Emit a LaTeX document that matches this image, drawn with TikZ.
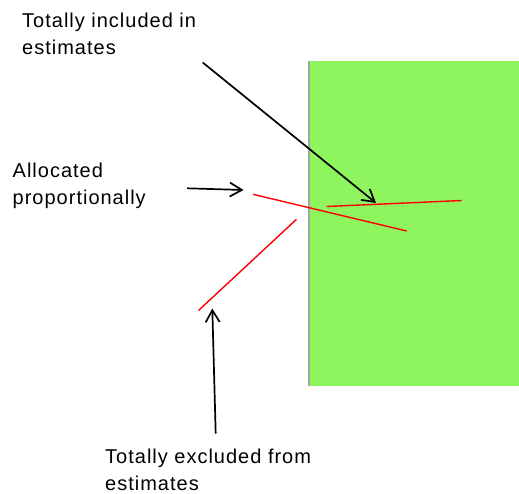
\documentclass[tikz,border=0pt]{standalone}
\usepackage{fontspec}
\setmainfont{Liberation Sans}[LetterSpace=5]
\usetikzlibrary{arrows.meta}
\definecolor{boxgreen}{RGB}{143,245,94}
\definecolor{edgegrey}{RGB}{165,165,165}
\tikzset{
  lbl/.style={anchor=base west, inner sep=0pt, align=left, font=\fontsize{20}{27}\selectfont},
  pointer/.style={draw=black, line width=1.7pt, -{Straight Barb[length=12pt,width=14pt,line width=1.7pt]}},
  redline/.style={draw=red, line width=1.4pt},
}
\begin{document}
\begin{tikzpicture}[x=1pt,y=-1pt]
\useasboundingbox (0,0) rectangle (519,494);
% green area
\fill[boxgreen] (308,61) rectangle (519,386);
\draw[edgegrey, line width=1.6pt] (308.8,61) -- (308.8,386);
% labels (anchor = baseline of last line)
\node[lbl] (incl) at (22,55) {Totally included in\\estimates};
\node[lbl] (alloc) at (12.5,204.5) {Allocated\\proportionally};
\node[lbl] (excl) at (105,490.5) {Totally excluded from\\estimates};
% red lines
\coordinate (a1) at (253,194.3);
\coordinate (a2) at (406.7,231);
\coordinate (b1) at (326.7,206.5);
\coordinate (b2) at (461.7,200.5);
\coordinate (c1) at (296.5,219.3);
\coordinate (c2) at (198.5,310.5);
\draw[redline] (a1) -- (a2);
\draw[redline] (b1) -- (b2);
\draw[redline] (c1) -- (c2);
% arrows
\coordinate (p1s) at (202.7,62.5);
\coordinate (p1e) at (376,203);
\coordinate (p2s) at (187,188.3);
\coordinate (p2e) at (243.5,190);
\coordinate (p3s) at (215.7,433.5);
\coordinate (p3e) at (212.3,308.5);
\draw[pointer] (p1s) -- (p1e);
\draw[pointer] (p2s) -- (p2e);
\draw[pointer] (p3s) -- (p3e);
\end{tikzpicture}
\end{document}
